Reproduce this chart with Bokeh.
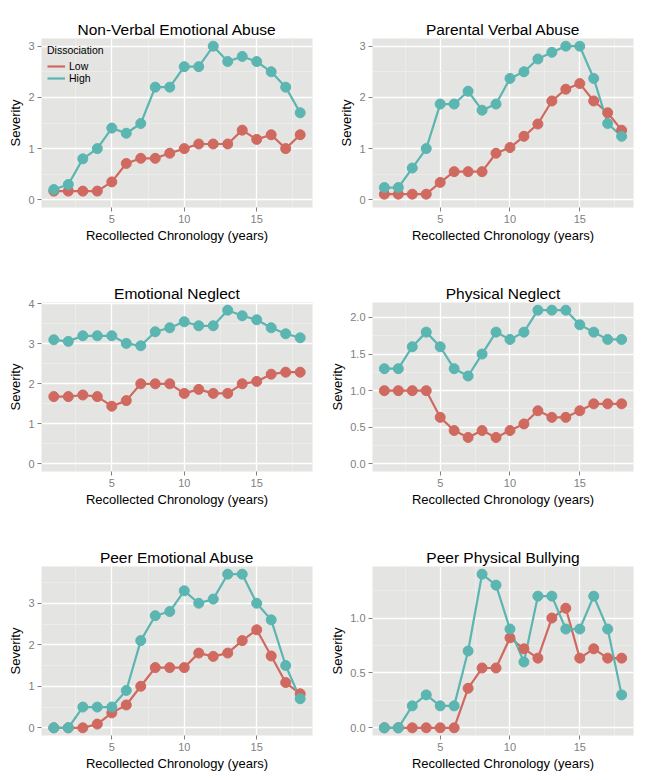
from bokeh.plotting import figure
from bokeh.layouts import gridplot
from bokeh.models import FixedTicker, Range1d, Legend, LegendItem, PrintfTickFormatter
from bokeh.embed import file_html
from bokeh.resources import INLINE

years = list(range(1, 19))

nonverbal_low = [0.17, 0.17, 0.17, 0.17, 0.35, 0.71, 0.81, 0.81, 0.91, 1.0, 1.09, 1.09, 1.09, 1.36, 1.18, 1.27, 1.0, 1.27]
nonverbal_high = [0.2, 0.3, 0.8, 1.0, 1.4, 1.3, 1.49, 2.2, 2.2, 2.6, 2.6, 3.0, 2.7, 2.8, 2.7, 2.5, 2.2, 1.7]

parental_low = [0.11, 0.11, 0.11, 0.11, 0.34, 0.55, 0.55, 0.55, 0.91, 1.02, 1.24, 1.48, 1.93, 2.16, 2.27, 1.93, 1.7, 1.36]
parental_high = [0.24, 0.24, 0.62, 1.0, 1.87, 1.87, 2.12, 1.75, 1.87, 2.37, 2.5, 2.75, 2.88, 3.0, 3.0, 2.37, 1.49, 1.24]

emoneglect_low = [1.68, 1.68, 1.72, 1.68, 1.44, 1.58, 2.0, 2.0, 2.0, 1.76, 1.86, 1.76, 1.76, 2.0, 2.06, 2.24, 2.29, 2.29]
emoneglect_high = [3.1, 3.06, 3.2, 3.2, 3.2, 3.01, 2.95, 3.3, 3.4, 3.55, 3.45, 3.45, 3.84, 3.7, 3.6, 3.4, 3.25, 3.15]

physneglect_low = [1.0, 1.0, 1.0, 1.0, 0.635, 0.455, 0.36, 0.455, 0.36, 0.455, 0.545, 0.725, 0.635, 0.635, 0.725, 0.82, 0.82, 0.82]
physneglect_high = [1.3, 1.3, 1.6, 1.8, 1.6, 1.3, 1.2, 1.5, 1.8, 1.7, 1.8, 2.1, 2.1, 2.1, 1.9, 1.8, 1.7, 1.7]

peeremo_low = [0.0, 0.0, 0.0, 0.09, 0.36, 0.55, 1.0, 1.45, 1.45, 1.45, 1.8, 1.72, 1.8, 2.1, 2.36, 1.73, 1.09, 0.82]
peeremo_high = [0.0, 0.0, 0.5, 0.5, 0.5, 0.9, 2.1, 2.7, 2.8, 3.3, 3.0, 3.1, 3.7, 3.7, 3.0, 2.6, 1.5, 0.7]

bullying_low = [0.0, 0.0, 0.0, 0.0, 0.0, 0.0, 0.36, 0.545, 0.545, 0.82, 0.72, 0.635, 1.0, 1.09, 0.635, 0.72, 0.635, 0.635]
bullying_high = [0.0, 0.0, 0.2, 0.3, 0.2, 0.2, 0.7, 1.4, 1.3, 0.9, 0.6, 1.2, 1.2, 0.9, 0.9, 1.2, 0.9, 0.3]

titles = ["Non-Verbal Emotional Abuse", "Parental Verbal Abuse", "Emotional Neglect",
          "Physical Neglect", "Peer Emotional Abuse", "Peer Physical Bullying"]
lows = [nonverbal_low, parental_low, emoneglect_low, physneglect_low, peeremo_low, bullying_low]
highs = [nonverbal_high, parental_high, emoneglect_high, physneglect_high, peeremo_high, bullying_high]
y_ticks = [[0, 1, 2, 3], [0, 1, 2, 3], [0, 1, 2, 3, 4], [0.0, 0.5, 1.0, 1.5, 2.0], [0, 1, 2, 3], [0.0, 0.5, 1.0]]
x_ticks = [5, 10, 15]
x_minor = [2.5, 7.5, 12.5, 17.5]
series_names = ["Low", "High"]
legend_title = "Dissociation"
x_label = "Recollected Chronology (years)"
y_label = "Severity"

LOW_COLOR = "#D0695F"
HIGH_COLOR = "#5BB5B1"
PANEL_BG = "#E4E4E2"
FONT = "Liberation Sans"

figs = []
for i in range(6):
    col = i % 2
    rowi = i // 2
    decimal = not float(y_ticks[i][1]).is_integer()
    if rowi == 0:
        h, bt, bb = 272, 38, 65
    elif rowi == 1:
        h, bt, bb = 264, 30, 65
    else:
        h, bt, bb = 238, 30, 39
    if col == 0:
        w, bl, br = 326, 41, 14
    else:
        w, bl, br = 318, (46 if decimal else 36), 11
    lo = 0.0
    hi = max(max(lows[i]), max(highs[i]))
    pad = 0.05 * (hi - lo)
    ylo, yhi = lo - pad, hi + pad
    xpad = 0.05 * (years[-1] - years[0])
    p = figure(width=w, height=h, output_backend="svg", toolbar_location=None,
               x_range=Range1d(years[0] - xpad, years[-1] + xpad),
               y_range=Range1d(ylo, yhi),
               min_border_left=bl, min_border_right=br, min_border_top=bt, min_border_bottom=bb)
    p.background_fill_color = PANEL_BG
    p.border_fill_color = "white"
    p.outline_line_color = None

    p.title.text = titles[i]
    p.title.text_font = FONT
    p.title.text_font_size = "15.5px"
    p.title.text_font_style = "normal"
    p.title.text_color = "black"
    p.title.align = "center"
    p.title.standoff = 1

    step = y_ticks[i][1] - y_ticks[i][0]
    ymin_cands = []
    m = y_ticks[i][0] - step / 2
    while m < yhi:
        if m > ylo:
            ymin_cands.append(m)
        m += step

    p.xaxis.ticker = FixedTicker(ticks=x_ticks, minor_ticks=x_minor)
    p.yaxis.ticker = FixedTicker(ticks=y_ticks[i], minor_ticks=ymin_cands)
    p.yaxis.formatter = PrintfTickFormatter(format="%.1f" if decimal else "%.0f")

    for ax in (p.xaxis[0], p.yaxis[0]):
        ax.axis_line_color = None
        ax.major_tick_line_color = "#808080"
        ax.major_tick_in = 0
        ax.major_tick_out = 4
        ax.minor_tick_in = 0
        ax.minor_tick_out = 0
        ax.major_label_text_font = FONT
        ax.major_label_text_font_size = "11px"
        ax.major_label_text_color = "#808080"
        ax.major_label_standoff = 3
        ax.axis_label_text_font = FONT
        ax.axis_label_text_font_size = "13px"
        ax.axis_label_text_font_style = "normal"
        ax.axis_label_text_color = "black"
        ax.axis_label_standoff = 2
    p.xaxis.axis_label = x_label
    p.yaxis.axis_label = y_label

    for g in (p.xgrid[0], p.ygrid[0]):
        g.grid_line_color = "white"
        g.grid_line_width = 1.3
        g.minor_grid_line_color = "#EEEEED"
        g.minor_grid_line_width = 0.8

    l_low = p.line(years, lows[i], line_color=LOW_COLOR, line_width=2.2)
    l_high = p.line(years, highs[i], line_color=HIGH_COLOR, line_width=2.2)
    p.scatter(years, lows[i], size=10, fill_color=LOW_COLOR, line_color=LOW_COLOR)
    p.scatter(years, highs[i], size=10, fill_color=HIGH_COLOR, line_color=HIGH_COLOR)

    if i == 0:
        legend = Legend(items=[LegendItem(label=series_names[0], renderers=[l_low]),
                               LegendItem(label=series_names[1], renderers=[l_high])],
                        location="top_left")
        legend.title = legend_title
        legend.title_text_font = FONT
        legend.title_text_font_size = "10.5px"
        legend.title_text_font_style = "normal"
        legend.title_text_color = "black"
        legend.title_standoff = 4
        legend.label_text_font = FONT
        legend.label_text_font_size = "10.5px"
        legend.label_text_color = "black"
        legend.background_fill_alpha = 0
        legend.border_line_color = None
        legend.margin = 6
        legend.padding = 7
        legend.spacing = 0
        legend.label_height = 12
        legend.glyph_height = 12
        legend.glyph_width = 18
        legend.label_standoff = 4
        p.add_layout(legend)
    figs.append(p)

grid = gridplot([[figs[0], figs[1]], [figs[2], figs[3]], [figs[4], figs[5]]], toolbar_location=None)

open("out.html", "w").write(file_html(grid, INLINE))
